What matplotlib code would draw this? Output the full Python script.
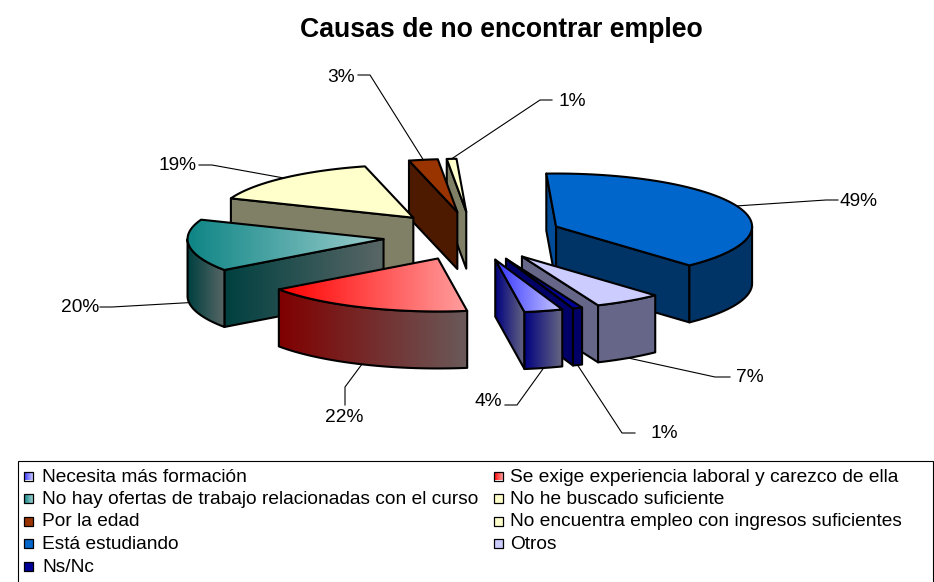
# exploded 3d pie - causas de no encontrar empleo
import numpy as np
import matplotlib
matplotlib.use('Agg')
import matplotlib.pyplot as plt
from matplotlib.patches import Polygon, Rectangle

plt.rcParams['font.family'] = ['Liberation Sans', 'DejaVu Sans']

# data, clockwise from the first slice
categorias = ['Necesita más formación', 'Se exige experiencia laboral y carezco de ella',
              'No hay ofertas de trabajo relacionadas con el curso', 'No he buscado suficiente',
              'Por la edad', 'No encuentra empleo con ingresos suficientes',
              'Está estudiando', 'Otros', 'Ns/Nc']
porcentajes = [4, 22, 20, 19, 3, 1, 49, 7, 1]

# colours, left and right end of the gradient
top_izq = ['#3333ff', '#ff0000', '#0f8585', '#ffffcc', '#993300', '#ffffcc', '#0066cc', '#ccccff', '#000099']
top_der = ['#ccccff', '#ff9f9f', '#9fcfcf', '#ffffcc', '#993300', '#ffffcc', '#0066cc', '#ccccff', '#000099']
lado_izq = ['#000080', '#800000', '#004040', '#808066', '#4d1a00', '#808066', '#003366', '#666688', '#000066']
lado_der = ['#666680', '#6a5a5a', '#5a6666', '#808066', '#4d1a00', '#808066', '#003366', '#666688', '#000066']

# label position and elbow of each leader line
label_pos = [(488, 402), (344, 418), (80, 308), (178, 166), (341, 78), (572, 101), (858, 201), (750, 378), (664, 433)]
elbow_pos = [(505, 405, 517, 405), (345, 405, 345, 387), (100, 307, 112, 307), (199, 165, 212, 165),
             (358, 75, 370, 75), (552, 100, 540, 100), (838, 200, 826, 200), (730, 377, 715, 377), (635, 433, 622, 433)]

# pie geometry in pixels
cx, cy = 473, 236
rx, ry = 196, 53
depth = 57
explode = 0.46
start_angle = -70

fig = plt.figure(figsize=(9.34, 5.82), dpi=100)
ax = fig.add_axes([0, 0, 1, 1])
ax.set_xlim(0, 934)
ax.set_ylim(582, 0)
ax.axis('off')

z = [2]


def fill_face(pts, c_left, c_right, lw=1.5):
    pts = np.array(pts)
    z[0] += 1
    poly = Polygon(pts, closed=True, fc='none', ec='black', lw=lw, joinstyle='round', zorder=z[0] + 1)
    ax.add_patch(poly)
    if c_left == c_right:
        poly.set_facecolor(c_left)
    else:
        c0 = np.array(matplotlib.colors.to_rgb(c_left))
        c1 = np.array(matplotlib.colors.to_rgb(c_right))
        t = np.linspace(0, 1, 128)[:, None]
        grad = (c0 * (1 - t) + c1 * t)[None, :, :]
        im = ax.imshow(grad, extent=[pts[:, 0].min(), pts[:, 0].max(), pts[:, 1].max(), pts[:, 1].min()],
                       aspect='auto', zorder=z[0], interpolation='bilinear')
        clip = Polygon(pts, closed=True, transform=ax.transData)
        im.set_clip_path(clip)
    z[0] += 1


def arc(ox, oy, a0, a1):
    t = np.radians(np.linspace(a0, a1, 60))
    return np.column_stack([ox + rx * np.cos(t), oy - ry * np.sin(t)])


total = sum(porcentajes)
slices = []
ang = start_angle
for i, p in enumerate(porcentajes):
    a0 = ang
    a1 = ang - p / total * 360
    mid = np.radians((a0 + a1) / 2)
    ox = cx + explode * rx * np.cos(mid)
    oy = cy - explode * ry * np.sin(mid)
    slices.append((i, a0, a1, mid, ox, oy))
    ang = a1

# painter order: back of the left group to the front, then the right group
draw_order = [5, 4, 3, 2, 1, 6, 7, 8, 0]
for i in draw_order:
    _, a0, a1, mid, ox, oy = slices[i]
    ra0, ra1 = np.radians(a0), np.radians(a1)
    # start face, seen when it points left
    if np.cos(ra0) < 0:
        p = arc(ox, oy, a0, a0)[0]
        c_l, c_r = lado_izq[i], lado_der[i]
        if categorias[i] == 'Está estudiando':
            c_l = c_r = '#004c99'
        fill_face([(ox, oy), p, (p[0], p[1] + depth), (ox, oy + depth)], c_l, c_r)
    # end face, seen when it points right
    if np.cos(ra1) > 0:
        p = arc(ox, oy, a1, a1)[0]
        fill_face([(ox, oy), p, (p[0], p[1] + depth), (ox, oy + depth)], lado_izq[i], lado_der[i])
    # outer wall, only the front half of the ellipse
    angs = np.linspace(a0, a1, 200)
    angs = angs[np.sin(np.radians(angs)) < 0]
    if len(angs) > 1:
        up = arc(ox, oy, angs[0], angs[-1])
        fill_face(np.vstack([up, (up + [0, depth])[::-1]]), lado_izq[i], lado_der[i])
    # top
    fill_face(np.vstack([[(ox, oy)], arc(ox, oy, a0, a1)]), top_izq[i], top_der[i])

# percent labels with leader lines, anchored on the middle of the arc
for i, a0, a1, mid, ox, oy in slices:
    px = ox + rx * np.cos(mid)
    py = oy - ry * np.sin(mid)
    if np.sin(mid) < 0:
        py += depth
    e = elbow_pos[i]
    ax.plot([e[0], e[2], px], [e[1], e[3], py], color='black', lw=0.8, zorder=z[0] + 5)
    ax.text(label_pos[i][0], label_pos[i][1], f'{porcentajes[i]}%', ha='center', va='center', fontsize=13.8)

ax.text(501, 30, 'Causas de no encontrar empleo', ha='center', va='center', fontsize=19.2, fontweight='bold')

# legend box, two columns filled row by row
ax.add_patch(Rectangle((18, 461), 915, 130, fc='white', ec='black', lw=0.8, zorder=1))
rows = [476, 498.5, 521, 543.5, 566]
cols = [(24, 42), (494, 510)]
for i, cat in enumerate(categorias):
    sx, tx = cols[i % 2]
    sy = rows[i // 2]
    s = 9
    fill_face([(sx, sy - s / 2), (sx + s, sy - s / 2), (sx + s, sy + s / 2), (sx, sy + s / 2)],
              top_izq[i], top_der[i], lw=0.9)
    ax.text(tx, sy + 1, cat, ha='left', va='center', fontsize=13.8)

fig.savefig('out.png', dpi=100)
